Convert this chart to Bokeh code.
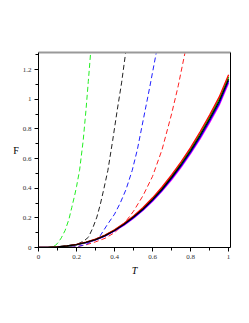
from bokeh.plotting import figure
from bokeh.models import Range1d, LinearAxis, SingleIntervalTicker, FixedTicker
from bokeh.embed import file_html
from bokeh.resources import INLINE

# Solid curves (common x grid)
x_solid = [0, 0.05, 0.1, 0.15, 0.2, 0.25, 0.3, 0.35, 0.4, 0.45, 0.5, 0.55,
           0.6, 0.65, 0.7, 0.75, 0.8, 0.85, 0.9, 0.95, 1.0]
y_solid_red = [0, 0.001, 0.004, 0.011, 0.021, 0.036, 0.056, 0.084, 0.120, 0.163, 0.213,
               0.270, 0.335, 0.408, 0.489, 0.577, 0.674, 0.780, 0.893, 1.014, 1.165]
y_solid_green = [0, 0.001, 0.004, 0.010, 0.020, 0.035, 0.055, 0.082, 0.118, 0.160, 0.209,
                 0.265, 0.329, 0.400, 0.480, 0.567, 0.663, 0.767, 0.879, 0.999, 1.150]
y_solid_black = [0, 0.001, 0.004, 0.010, 0.020, 0.034, 0.053, 0.080, 0.115, 0.157, 0.205,
                 0.260, 0.323, 0.393, 0.472, 0.558, 0.652, 0.755, 0.866, 0.985, 1.135]
y_solid_blue = [0, 0.001, 0.004, 0.010, 0.019, 0.033, 0.052, 0.078, 0.113, 0.154, 0.201,
                0.255, 0.317, 0.386, 0.464, 0.549, 0.642, 0.743, 0.853, 0.970, 1.122]
y_solid_magenta = [0, 0.001, 0.003, 0.009, 0.019, 0.032, 0.051, 0.077, 0.111, 0.151, 0.198,
                   0.251, 0.312, 0.380, 0.457, 0.541, 0.633, 0.733, 0.842, 0.958, 1.110]

# Dashed curves
x_dash_green = [0, 0.05, 0.07, 0.09, 0.105, 0.12, 0.14, 0.16, 0.175, 0.19, 0.20,
                0.216, 0.235, 0.25, 0.262, 0.274]
y_dash_green = [0, 0, 0.005, 0.015, 0.036, 0.065, 0.115, 0.19, 0.27, 0.35, 0.41,
                0.52, 0.72, 0.93, 1.12, 1.31]

x_dash_black = [0, 0.1, 0.15, 0.2, 0.24, 0.263, 0.285, 0.307, 0.325, 0.342, 0.365,
                0.39, 0.414, 0.437, 0.458]
y_dash_black = [0, 0, 0.003, 0.02, 0.045, 0.07, 0.13, 0.205, 0.29, 0.385, 0.52,
                0.72, 0.925, 1.11, 1.31]

x_dash_blue = [0, 0.15, 0.2, 0.25, 0.3, 0.325, 0.36, 0.4, 0.43, 0.46, 0.493,
               0.52, 0.554, 0.585, 0.619]
y_dash_blue = [0, 0, 0.005, 0.02, 0.055, 0.08, 0.15, 0.225, 0.30, 0.39, 0.52,
               0.66, 0.88, 1.08, 1.31]

x_dash_red = [0, 0.15, 0.2, 0.25, 0.3, 0.35, 0.4, 0.45, 0.5, 0.55, 0.6, 0.65,
              0.7, 0.735, 0.77]
y_dash_red = [0, 0, 0.005, 0.018, 0.038, 0.062, 0.1, 0.16, 0.245, 0.35, 0.48, 0.66,
              0.9, 1.09, 1.31]

x_ticks = [0, 0.2, 0.4, 0.6, 0.8, 1.0]
x_tick_labels = ["0", "0.2", "0.4", "0.6", "0.8", "1"]
y_ticks = [0, 0.2, 0.4, 0.6, 0.8, 1.0, 1.2]
y_tick_labels = ["0", "0.2", "0.4", "0.6", "0.8", "1", "1.2"]

FONT = "Liberation Serif"

p = figure(width=241, height=308, output_backend="svg", toolbar_location=None,
           x_range=Range1d(0, 1.01), y_range=Range1d(0, 1.315),
           min_border_left=38, min_border_right=11, min_border_top=52,
           min_border_bottom=61, x_axis_type=None, y_axis_type=None)
p.outline_line_color = None
p.grid.visible = False
p.background_fill_color = "white"
p.border_fill_color = "white"

def style_axis(ax, ticks, labels, label, standoff):
    ax.ticker = SingleIntervalTicker(interval=0.2, num_minor_ticks=2)
    ax.major_label_overrides = {t: l for t, l in zip(ticks, labels)}
    ax.major_label_text_font = FONT
    ax.major_label_text_font_size = "7px"
    ax.major_label_text_color = "#333333"
    ax.major_label_standoff = 3
    ax.major_tick_in = 0
    ax.major_tick_out = 4
    ax.minor_tick_in = 0
    ax.minor_tick_out = 3
    ax.axis_line_color = "black"
    ax.major_tick_line_color = "black"
    ax.minor_tick_line_color = "black"
    ax.axis_label = label
    ax.axis_label_text_font = FONT
    ax.axis_label_text_font_size = "10px"
    ax.axis_label_text_color = "black"
    ax.axis_label_standoff = standoff

xaxis = LinearAxis()
style_axis(xaxis, x_ticks, x_tick_labels, "T", 3)
xaxis.axis_label_text_font_style = "italic"
p.add_layout(xaxis, "below")

yaxis = LinearAxis()
style_axis(yaxis, y_ticks, y_tick_labels, "F", 1)
yaxis.axis_label_orientation = "horizontal"
yaxis.axis_label_text_font_style = "normal"
p.add_layout(yaxis, "left")

top_axis = LinearAxis(ticker=FixedTicker(ticks=[]), major_tick_line_color=None,
                      minor_tick_line_color=None, axis_line_color="#999999",
                      axis_line_width=2)
p.add_layout(top_axis, "above")
right_axis = LinearAxis(ticker=FixedTicker(ticks=[]), major_tick_line_color=None,
                        minor_tick_line_color=None, axis_line_color="black",
                        axis_line_width=1)
p.add_layout(right_axis, "right")

dash = "5 3"
p.line(x_dash_red, y_dash_red, line_color="#ff2020", line_width=1, line_dash=dash)
p.line(x_dash_blue, y_dash_blue, line_color="#2020ff", line_width=1, line_dash=dash)
p.line(x_dash_black, y_dash_black, line_color="#222222", line_width=1, line_dash=dash)
p.line(x_dash_green, y_dash_green, line_color="#22ee22", line_width=1, line_dash=dash)

p.line(x_solid, y_solid_magenta, line_color="#ff00ff", line_width=1.3)
p.line(x_solid, y_solid_blue, line_color="#0000ff", line_width=1.3)
p.line(x_solid, y_solid_green, line_color="#00cc00", line_width=1.3)
p.line(x_solid, y_solid_red, line_color="#ff0000", line_width=1.3)
p.line(x_solid, y_solid_black, line_color="#000000", line_width=1.3)

open("out.html", "w").write(file_html(p, INLINE))
